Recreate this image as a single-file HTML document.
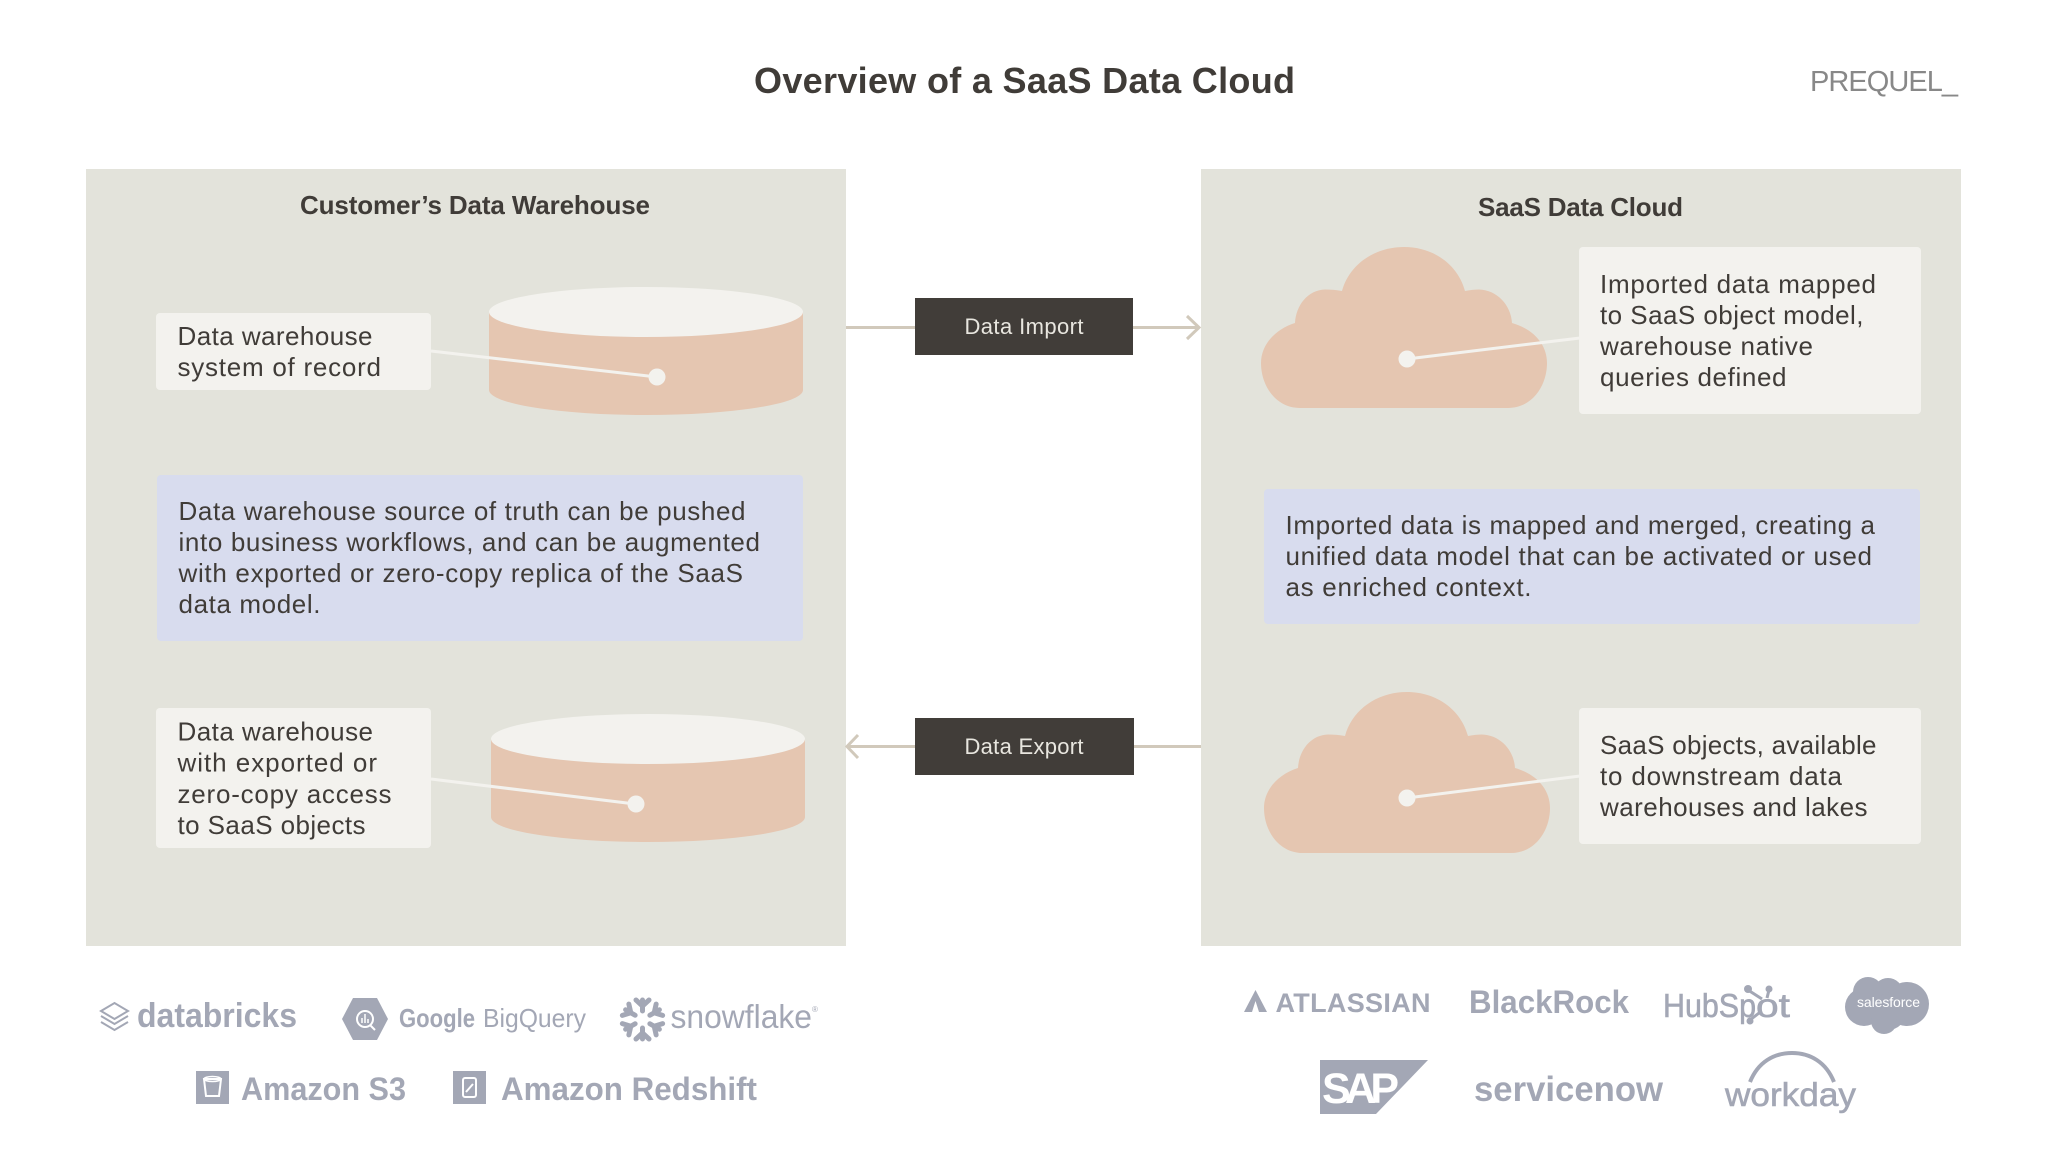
<!DOCTYPE html>
<html lang="en">
<head>
<meta charset="utf-8">
<title>Overview of a SaaS Data Cloud</title>
<style>
html,body{margin:0;padding:0;background:#fff;width:2048px;height:1152px;overflow:hidden}
svg{display:block}
text{font-family:"Liberation Sans",sans-serif}
.b{font-size:26px;fill:#403c38}
.h{font-size:26px;font-weight:bold;fill:#403c38}
.p{font-size:22px;fill:#e8e6df}
.lg{fill:#a3a7b5}
</style>
</head>
<body>
<svg width="2048" height="1152" viewBox="0 0 2048 1152" xmlns="http://www.w3.org/2000/svg">
<rect width="2048" height="1152" fill="#fff"/>

<text x="754" y="93" font-size="36" font-weight="bold" fill="#403c38" textLength="541" lengthAdjust="spacing">Overview of a SaaS Data Cloud</text>
<text x="1810" y="91" font-size="29" fill="#888888" textLength="148" lengthAdjust="spacing">PREQUEL_</text>

<!-- panels -->
<rect x="86" y="169" width="760" height="777" fill="#e3e3db"/>
<rect x="1201" y="169" width="760" height="777" fill="#e3e3db"/>
<text x="300" y="214" class="h" textLength="350" lengthAdjust="spacing">Customer’s Data Warehouse</text>
<text x="1478" y="216" class="h" textLength="205" lengthAdjust="spacing">SaaS Data Cloud</text>

<!-- connectors -->
<g stroke="#d1c9bb" stroke-width="3" fill="none">
<line x1="846" y1="327.5" x2="915" y2="327.5"/>
<line x1="1133" y1="327.5" x2="1198" y2="327.5"/>
<polyline points="1187,316 1199,327.5 1187,339"/>
<line x1="1134" y1="746.5" x2="1201" y2="746.5"/>
<line x1="847" y1="746.5" x2="915" y2="746.5"/>
<polyline points="858,735 847,746.5 858,758"/>
</g>
<rect x="915" y="298" width="218" height="57" fill="#413d39"/>
<rect x="915" y="718" width="219" height="57" fill="#413d39"/>
<text x="964.500" y="334" class="p" textLength="119" lengthAdjust="spacing">Data Import</text>
<text x="964.500" y="754" class="p" textLength="119" lengthAdjust="spacing">Data Export</text>

<!-- cylinder 1 -->
<path d="M489 312V390A157 25 0 0 0 803 390V312Z" fill="#e5c6b1"/>
<ellipse cx="646" cy="312" rx="157" ry="25" fill="#f3f2ee"/>
<!-- cylinder 2 -->
<path d="M491 739V817A157 25 0 0 0 805 817V739Z" fill="#e5c6b1"/>
<ellipse cx="648" cy="739" rx="157" ry="25" fill="#f3f2ee"/>

<!-- clouds -->
<path d="M1300 408C1276 408 1261 386 1261 363C1261 344 1276 329 1295 323C1296 305 1308 290 1325 289.5C1331 289.5 1337 290 1342 291C1349 265 1374 247 1404 247C1434 247 1458 265 1465 291C1470 290 1475 289.5 1479 289.5C1497 290 1511 305 1512 323C1533 329 1547 344 1547 363C1547 386 1532 408 1508 408Z" fill="#e5c6b1"/>
<path transform="translate(3 445)" d="M1300 408C1276 408 1261 386 1261 363C1261 344 1276 329 1295 323C1296 305 1308 290 1325 289.5C1331 289.5 1337 290 1342 291C1349 265 1374 247 1404 247C1434 247 1458 265 1465 291C1470 290 1475 289.5 1479 289.5C1497 290 1511 305 1512 323C1533 329 1547 344 1547 363C1547 386 1532 408 1508 408Z" fill="#e5c6b1"/>

<!-- leader lines and dots -->
<g stroke="#f3f2ee" stroke-width="3">
<line x1="431" y1="351" x2="657" y2="377"/>
<line x1="431" y1="779" x2="635" y2="804"/>
<line x1="1407" y1="359" x2="1580" y2="338"/>
<line x1="1407" y1="798" x2="1580" y2="776"/>
</g>
<g fill="#f3f2ee">
<circle cx="657" cy="377" r="8.5"/>
<circle cx="636" cy="804" r="8.5"/>
<circle cx="1407" cy="359" r="8.5"/>
<circle cx="1407" cy="798" r="8.5"/>
</g>

<!-- label boxes -->
<g fill="#f3f2ee">
<rect x="156" y="313" width="275" height="77" rx="4"/>
<rect x="156" y="708" width="275" height="140" rx="4"/>
<rect x="1579" y="247" width="342" height="167" rx="4"/>
<rect x="1579" y="708" width="342" height="136" rx="4"/>
</g>
<g fill="#d8dcee">
<rect x="157" y="475" width="646" height="166" rx="4"/>
<rect x="1264" y="489" width="656" height="135" rx="4"/>
</g>

<!-- text -->
<text x="177.500" y="345" class="b" textLength="195" lengthAdjust="spacing">Data warehouse</text>
<text x="177.500" y="376" class="b" textLength="203.500" lengthAdjust="spacing">system of record</text>

<text x="178.500" y="520" class="b" textLength="567" lengthAdjust="spacing">Data warehouse source of truth can be pushed</text>
<text x="178.500" y="551" class="b" textLength="581.500" lengthAdjust="spacing">into business workflows, and can be augmented</text>
<text x="178.500" y="582" class="b" textLength="564.500" lengthAdjust="spacing">with exported or zero-copy replica of the SaaS</text>
<text x="178.500" y="613" class="b" textLength="142" lengthAdjust="spacing">data model.</text>

<text x="177.500" y="740.500" class="b" textLength="195.500" lengthAdjust="spacing">Data warehouse</text>
<text x="177.500" y="771.500" class="b" textLength="199.500" lengthAdjust="spacing">with exported or</text>
<text x="177.500" y="803" class="b" textLength="214" lengthAdjust="spacing">zero-copy access</text>
<text x="177.500" y="834" class="b" textLength="188" lengthAdjust="spacing">to SaaS objects</text>

<text x="1600" y="293" class="b" textLength="276" lengthAdjust="spacing">Imported data mapped</text>
<text x="1600" y="324" class="b" textLength="263.500" lengthAdjust="spacing">to SaaS object model,</text>
<text x="1600" y="355" class="b" textLength="213" lengthAdjust="spacing">warehouse native</text>
<text x="1600" y="386" class="b" textLength="186.500" lengthAdjust="spacing">queries defined</text>

<text x="1285.500" y="534" class="b" textLength="589.500" lengthAdjust="spacing">Imported data is mapped and merged, creating a</text>
<text x="1285.500" y="565" class="b" textLength="586.500" lengthAdjust="spacing">unified data model that can be activated or used</text>
<text x="1285.500" y="596" class="b" textLength="246" lengthAdjust="spacing">as enriched context.</text>

<text x="1600" y="754" class="b" textLength="276.500" lengthAdjust="spacing">SaaS objects, available</text>
<text x="1600" y="785" class="b" textLength="242" lengthAdjust="spacing">to downstream data</text>
<text x="1600" y="816" class="b" textLength="267.500" lengthAdjust="spacing">warehouses and lakes</text>

<!-- left logos -->
<g fill="none" stroke="#a3a7b5" stroke-width="2">
<path d="M101 1011L114.500 1003L128 1011L114.500 1019Z"/>
<path d="M101 1016L114.500 1024L128 1016"/>
<path d="M101 1022L114.500 1030L128 1022"/>
</g>
<text x="137" y="1027" class="lg" font-size="34" font-weight="bold" textLength="160" lengthAdjust="spacingAndGlyphs">databricks</text>

<path class="lg" d="M353 998H377L388 1019L377 1040H353L342 1019Z"/>
<circle cx="365" cy="1019" r="8" fill="none" stroke="#fff" stroke-width="2"/>
<line x1="370" y1="1025" x2="375" y2="1030" stroke="#fff" stroke-width="2"/>
<path d="M362 1023V1018M365 1023V1014M368 1023V1019" stroke="#fff" stroke-width="1.500"/>
<text x="399" y="1027" class="lg" font-size="26" font-weight="bold" textLength="76" lengthAdjust="spacingAndGlyphs">Google</text>
<text x="483" y="1027" class="lg" font-size="26" textLength="103" lengthAdjust="spacingAndGlyphs">BigQuery</text>

<g stroke="#a3a7b5" stroke-width="5" fill="none" stroke-linecap="round">
<path d="M642.500 1011V1000M642.500 1006L636 1000M642.500 1006L649 1000"/>
<path transform="rotate(60 642.500 1019.500)" d="M642.500 1011V1000M642.500 1006L636 1000M642.500 1006L649 1000"/>
<path transform="rotate(120 642.500 1019.500)" d="M642.500 1011V1000M642.500 1006L636 1000M642.500 1006L649 1000"/>
<path transform="rotate(180 642.500 1019.500)" d="M642.500 1011V1000M642.500 1006L636 1000M642.500 1006L649 1000"/>
<path transform="rotate(240 642.500 1019.500)" d="M642.500 1011V1000M642.500 1006L636 1000M642.500 1006L649 1000"/>
<path transform="rotate(300 642.500 1019.500)" d="M642.500 1011V1000M642.500 1006L636 1000M642.500 1006L649 1000"/>
</g>
<text x="670.500" y="1028" class="lg" font-size="33" textLength="141.500" lengthAdjust="spacingAndGlyphs">snowflake</text>
<text x="812" y="1012" class="lg" font-size="8">®</text>

<rect x="196" y="1071" width="33" height="33" class="lg"/>
<path d="M204 1079H221L219 1096H206Z" fill="none" stroke="#fff" stroke-width="2"/>
<ellipse cx="212.500" cy="1079" rx="8.500" ry="2.500" fill="none" stroke="#fff" stroke-width="1.500"/>
<text x="241" y="1100" class="lg" font-size="32" font-weight="bold" textLength="165" lengthAdjust="spacingAndGlyphs">Amazon S3</text>
<rect x="453" y="1071" width="33" height="33" class="lg"/>
<rect x="463" y="1078" width="13" height="19" rx="2" fill="none" stroke="#fff" stroke-width="2"/>
<path d="M466 1092L473 1084" stroke="#fff" stroke-width="2"/>
<text x="501" y="1100" class="lg" font-size="32" font-weight="bold" textLength="256" lengthAdjust="spacingAndGlyphs">Amazon Redshift</text>

<!-- right logos -->
<path class="lg" d="M1255.500 990L1267 1012H1259L1255.500 1001L1252 1012H1244Z"/>
<text x="1275.500" y="1012" class="lg" font-size="27" font-weight="bold" textLength="155" lengthAdjust="spacing">ATLASSIAN</text>
<text x="1469" y="1013" class="lg" font-size="32" font-weight="bold" textLength="160" lengthAdjust="spacingAndGlyphs">BlackRock</text>
<text x="1663" y="1017" class="lg" font-size="33" stroke="#a3a7b5" stroke-width=".6" textLength="93" lengthAdjust="spacingAndGlyphs">HubSp</text>
<text x="1756" y="1017" class="lg" font-size="33" stroke="#a3a7b5" stroke-width=".6" textLength="34" lengthAdjust="spacingAndGlyphs">ot</text>
<g fill="none" stroke="#a3a7b5" stroke-width="3">
<line x1="1767" y1="998" x2="1769" y2="990"/>
<line x1="1762" y1="999" x2="1748" y2="990"/>
<line x1="1759" y1="1013" x2="1750" y2="1020"/>
</g>
<g class="lg"><circle cx="1769" cy="989" r="3.500"/><circle cx="1748" cy="989" r="4"/><circle cx="1750" cy="1021" r="3.500"/></g>

<g class="lg">
<circle cx="1868" cy="992" r="15"/>
<circle cx="1888" cy="993" r="15"/>
<circle cx="1907" cy="1004" r="22"/>
<circle cx="1864" cy="1007" r="19"/>
<circle cx="1888" cy="1012" r="18"/>
<circle cx="1884" cy="1021" r="13"/>
</g>
<text x="1857" y="1007" font-size="14" fill="#fff" textLength="63" lengthAdjust="spacing">salesforce</text>

<polygon class="lg" points="1320,1060 1428,1060 1376,1114 1320,1114"/>
<text x="1322" y="1103" font-size="43" font-weight="bold" fill="#fff" textLength="77" lengthAdjust="spacing">SAP</text>

<text x="1474" y="1101" class="lg" font-size="35" font-weight="bold" textLength="189" lengthAdjust="spacingAndGlyphs">servicenow</text>

<path d="M1750 1082C1758 1062 1774 1053 1792 1053C1810 1053 1826 1062 1834 1082" fill="none" stroke="#a3a7b5" stroke-width="4"/>
<text x="1725" y="1106" class="lg" font-size="33" stroke="#a3a7b5" stroke-width=".6" textLength="131" lengthAdjust="spacingAndGlyphs">workday</text>
</svg>
</body>
</html>
